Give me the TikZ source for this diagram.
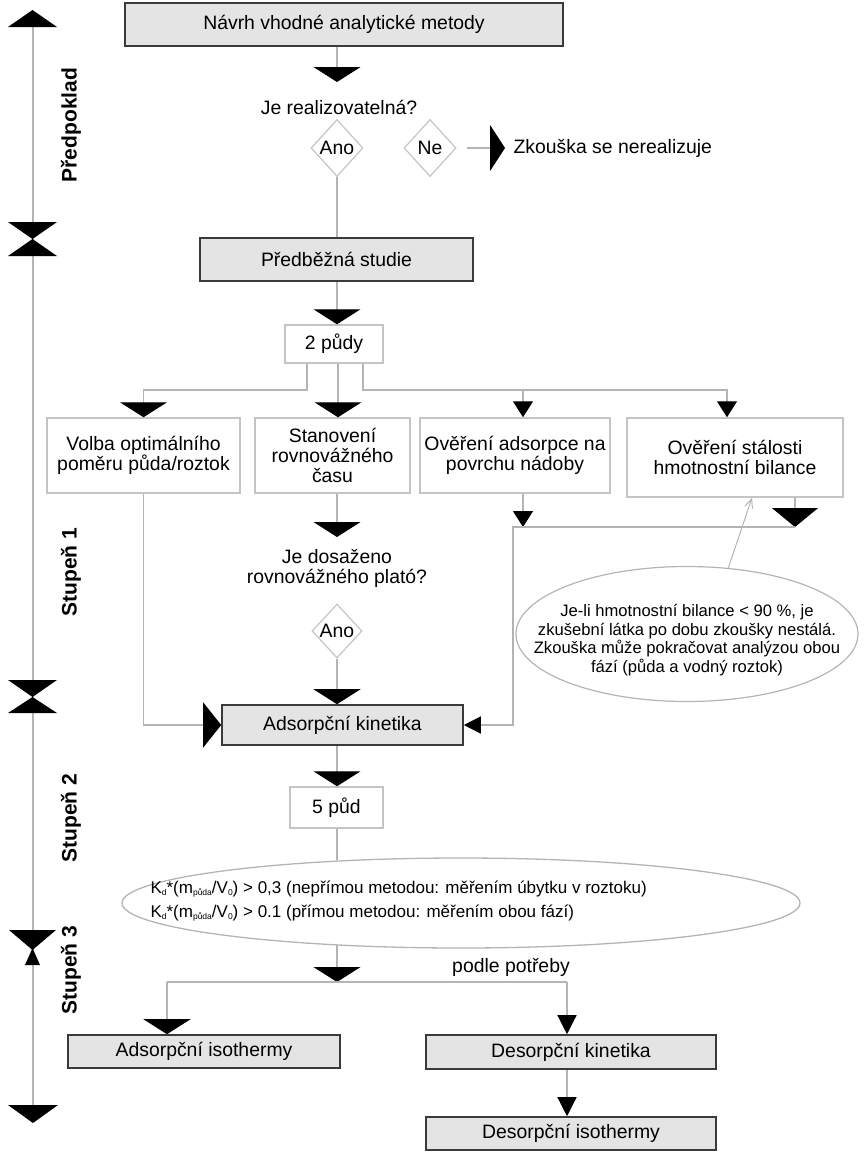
\documentclass[tikz,border=0pt]{standalone}
\usepackage{fontspec}
\setmainfont{Liberation Sans}
\usetikzlibrary{arrows.meta,shapes.geometric,calc}
\definecolor{lgray}{HTML}{B4B4B4}
\definecolor{bgray}{HTML}{C4C4C4}
\definecolor{fgray}{HTML}{E4E4E4}
\definecolor{dgray}{HTML}{3A3A3A}
\newcommand\sbs[1]{\raisebox{-2.5pt}{\fontsize{8.5}{9}\selectfont #1}}
\begin{document}
\begin{tikzpicture}[x=1pt,y=-1pt,
  font=\fontsize{19.4}{20}\selectfont,
  graybox/.style={draw=dgray, fill=fgray, line width=1.6pt, inner sep=0pt},
  whitebox/.style={draw=bgray, fill=white, line width=1.5pt, inner sep=0pt, align=center},
  dia/.style={diamond, draw=bgray, line width=1.2pt, inner sep=0pt, minimum width=52pt, minimum height=57pt},
  conn/.style={draw=lgray, line width=1.3pt},
  bigtip/.style={-{Triangle[length=15pt,width=47pt,color=black]}},
  smalltip/.style={-{Triangle[length=16pt,width=20pt,color=black]}},
  tallsmalltip/.style={-{Triangle[length=19pt,width=19pt,color=black]}},
  sidetip/.style={-{Triangle[length=18pt,width=45pt,color=black]}},
  lefttip/.style={-{Triangle[length=17pt,width=17pt,color=black]}},
  axislabel/.style={rotate=90, font=\fontsize{21}{24}\selectfont\bfseries},
  axistri/.style={fill=black}
]
\useasboundingbox (0,0) rectangle (866,1157);

% ---- left axis ----
\draw[lgray, line width=1.2pt] (33,27) -- (33,1105);
\fill[axistri] (8,27) -- (57,27) -- (32.5,10) -- cycle;
\fill[axistri] (8,222) -- (57,222) -- (32.5,239) -- cycle;
\fill[axistri] (8,256) -- (57,256) -- (32.5,239) -- cycle;
\fill[axistri] (8,680) -- (57,680) -- (32.5,697) -- cycle;
\fill[axistri] (8,713) -- (57,713) -- (32.5,697) -- cycle;
\fill[axistri] (9,930) -- (56,930) -- (32.5,950) -- cycle;
\fill[axistri] (25,965) -- (40,965) -- (32.5,948) -- cycle;
\fill[axistri] (8,1105) -- (58,1105) -- (33,1123) -- cycle;
\node[axislabel] (lab1) at (71,125) {Předpoklad};
\node[axislabel] (lab2) at (71,572) {Stupeň 1};
\node[axislabel] (lab3) at (71,818) {Stupeň 2};
\node[axislabel] (lab4) at (71,970) {Stupeň 3};

% ---- Predpoklad ----
\node[graybox, minimum width=438pt, minimum height=43pt] (nav) at (344,24.5) {Návrh vhodné analytické metody};
\node (q1) at (339,107) {Je realizovatelná?};
\node[dia] (ano1) at (337,148) {Ano};
\node[dia] (ne) at (430,148) {Ne};
\coordinate (netip) at (505,148);
\node[anchor=west] (zk) at (510,148) {Zkouška se nerealizuje};
\coordinate (t1) at (337,82);
\draw[conn, bigtip] (nav.south -| t1) -- (t1);
\draw[conn, -{Triangle[length=15pt,width=46pt,color=black]}, shorten <=10pt] (ne.east) -- (netip);

\node[graybox, minimum width=273pt, minimum height=43pt] (pre) at (336.5,259.5) {Předběžná studie};
\draw[conn] (ano1.south) -- (pre.north -| ano1);

% ---- Stupen 1 ----
\node[whitebox, minimum width=98pt, minimum height=38pt] (pd2) at (334,344) {2 půdy};
\draw[conn, bigtip] (pre.south -| ano1) -- (pd2.north -| ano1);

\coordinate (bl) at (307,390);
\coordinate (bm) at (338,390);
\coordinate (br) at (363,390);
\coordinate (boa) at (523,390);
\coordinate (bos) at (727,390);

\node[whitebox, minimum width=193pt, minimum height=75pt] (vo) at (143.5,455.5) {Volba optimálního\\poměru půda/roztok};
\node[whitebox, minimum width=155pt, minimum height=75pt] (stan) at (332.5,455.5) {Stanovení\\rovnovážného\\času};
\node[whitebox, minimum width=190pt, minimum height=75pt] (oa) at (515,455.5) {Ověření adsorpce na\\povrchu nádoby};
\node[whitebox, minimum width=216pt, minimum height=79pt] (os) at (735,457.5) {Ověření stálosti\\hmotnostní bilance};

\draw[conn, bigtip] (pd2.south -| bl) -- (bl) -- (bl -| vo.north) -- (vo.north);
\draw[conn, bigtip] (pd2.south -| bm) -- (stan.north -| bm);
\draw[conn, smalltip] (pd2.south -| br) -- (br) -- (bos) -- (os.north -| bos);
\draw[conn, smalltip] (boa) -- (oa.north -| boa);

\coordinate (t3) at (337,537);
\draw[conn, bigtip] (stan.south -| t3) -- (t3);
\node[align=center] (q2) at (337,568) {Je dosaženo\\rovnovážného plató?};
\node[dia, minimum width=50pt, minimum height=54pt] (ano2) at (337,631) {Ano};
\node[graybox, minimum width=241pt, minimum height=40pt] (ak) at (342.5,725) {Adsorpční kinetika};
\draw[conn, bigtip] (ano2.south) -- (ak.north -| ano2);
\draw[conn, sidetip] (vo.south) -- (vo.south |- ak.west) -- (ak.west);

\coordinate (oat) at (523,527);
\coordinate (ost) at (795,527);
\coordinate (rc) at (513,527);
\draw[conn, smalltip] (oa.south -| oat) -- (oat);
\draw[conn, -{Triangle[length=19pt,width=46pt,color=black]}] (os.south -| ost) -- (ost);
\draw[conn, lefttip] (ost) -- (rc) -- (rc |- ak.east) -- (ak.east);

\node[ellipse, draw=lgray, line width=1.2pt, minimum width=342pt, minimum height=135pt, inner sep=0pt] (ell2) at (687,634) {};
\node[align=center, font=\fontsize{16.6}{18.7}\selectfont] (ct2) at (687,640) {Je-li hmotnostní bilance < 90 \%, je\\zkušební látka po dobu zkoušky nestálá.\\Zkouška může pokračovat analýzou obou\\fází (půda a vodný roztok)};
\draw[lgray, line width=1pt, -{Straight Barb[length=9pt,width=8pt]}] (ell2.58) -- ($(os.south)+(17,0)$);

% ---- Stupen 2 ----
\node[whitebox, minimum width=93pt, minimum height=41pt] (pd5) at (336.5,807.5) {5 půd};
\draw[conn, bigtip] (ak.south -| ano2) -- (pd5.north -| ano2);
\node[ellipse, draw=lgray, line width=1.3pt, minimum width=678pt, minimum height=90pt, inner sep=0pt] (ell1) at (461,903) {};
\node[anchor=west, align=left, font=\fontsize{17}{24}\selectfont] (kd) at (147,901) {K\sbs{d}*(m\sbs{půda}/V\sbs{0}) > 0,3 (nepřímou metodou: měřením úbytku v roztoku)\\K\sbs{d}*(m\sbs{půda}/V\sbs{0}) > 0.1 (přímou metodou: měřením obou fází)};
\draw[conn] (pd5.south -| ano2) -- (ell1.161.3 -| ano2);

% ---- Stupen 3 ----
\coordinate (tb) at (337,982);
\draw[conn, bigtip] (ell1.198.7 -| tb) -- (tb);
\node (pp) at (511,967) {podle potřeby};
\coordinate (hl) at (167,982);
\coordinate (hr) at (567,982);
\draw[conn] (hl) -- (hr);
\node[graybox, minimum width=272pt, minimum height=33pt] (ai) at (204,1051.5) {Adsorpční isothermy};
\node[graybox, minimum width=290pt, minimum height=34pt] (dk) at (571,1052) {Desorpční kinetika};
\node[graybox, minimum width=290pt, minimum height=33pt] (di) at (571,1133.5) {Desorpční isothermy};
\draw[conn, bigtip] (hl) -- (ai.north -| hl);
\draw[conn, tallsmalltip] (hr) -- (dk.north -| hr);
\draw[conn, tallsmalltip] (dk.south -| hr) -- (di.north -| hr);
\end{tikzpicture}
\end{document}
